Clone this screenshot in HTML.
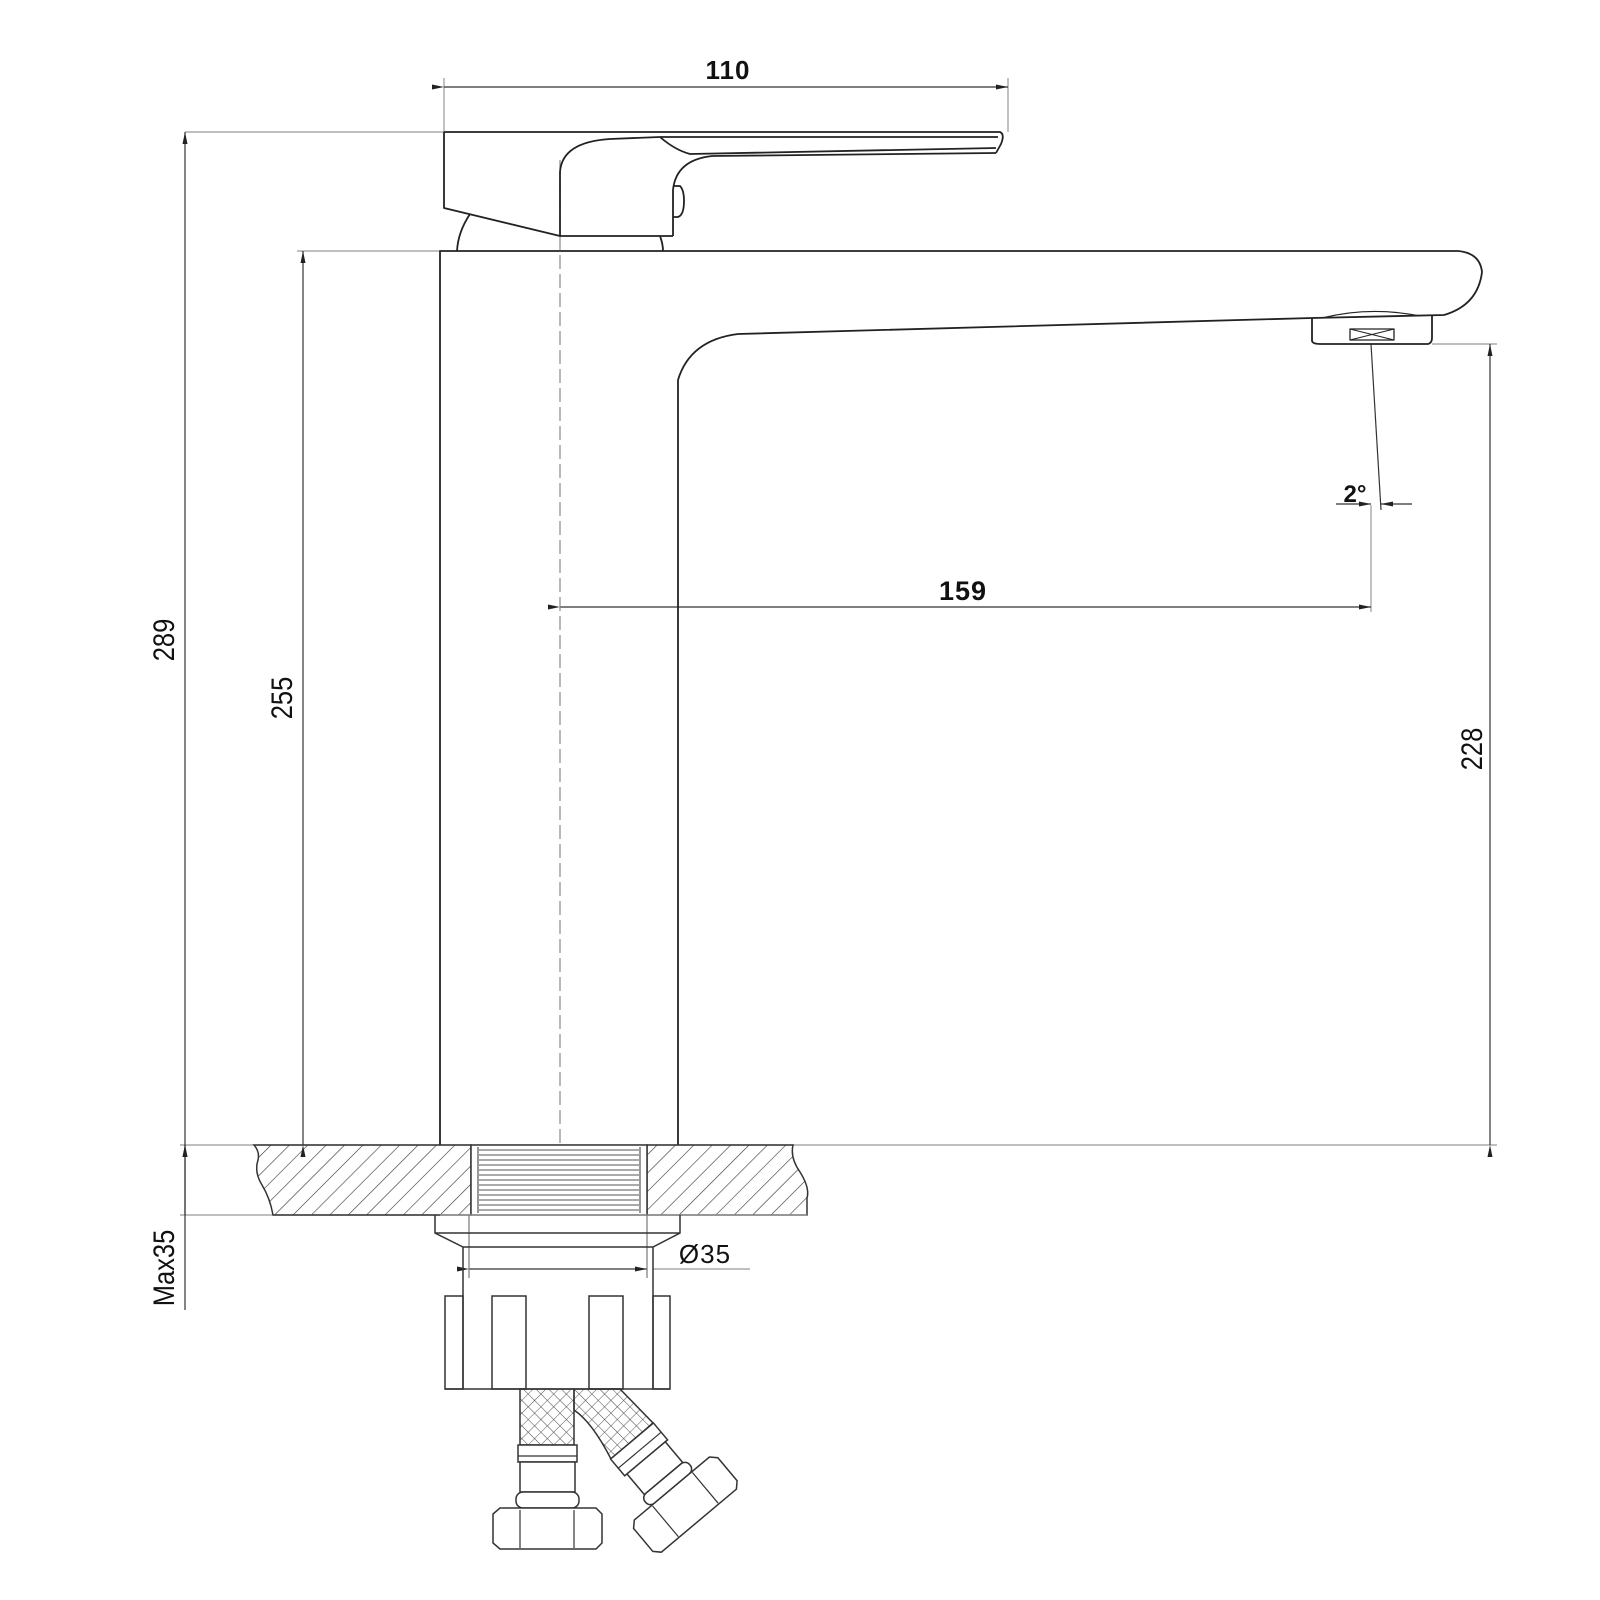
<!DOCTYPE html>
<html><head><meta charset="utf-8"><style>
html,body{margin:0;padding:0;background:#fff;}
svg{display:block;}
text{font-family:"Liberation Sans",sans-serif;fill:#111;}
</style></head><body>
<svg width="1600" height="1600" viewBox="0 0 1600 1600" xmlns="http://www.w3.org/2000/svg">
<defs>
<pattern id="hatch" patternUnits="userSpaceOnUse" width="13" height="13" patternTransform="rotate(45)">
<line x1="0" y1="0" x2="0" y2="13" stroke="#333" stroke-width="1.2"/>
</pattern>
<pattern id="mesh" patternUnits="userSpaceOnUse" width="9" height="9" patternTransform="rotate(45)">
<path d="M0 0 V9 M0 0 H9" stroke="#444" stroke-width="0.9" fill="none"/>
</pattern>
<marker id="ar" markerWidth="12" markerHeight="8" refX="12" refY="4" orient="auto" markerUnits="userSpaceOnUse">
<path d="M0 1.5 L12 4 L0 6.5 z" fill="#222"/>
</marker>
</defs>
<g fill="none" stroke="#999" stroke-width="1.2">
<line x1="185" y1="132" x2="444" y2="132"/>
<line x1="444" y1="78" x2="444" y2="132"/>
<line x1="1008" y1="78" x2="1008" y2="132"/>
<line x1="297" y1="251" x2="440" y2="251"/>
<line x1="180" y1="1145" x2="1497" y2="1145"/>
<line x1="180" y1="1215" x2="440" y2="1215"/>
<line x1="1432" y1="344" x2="1497" y2="344"/>
<line x1="1371" y1="505" x2="1371" y2="612"/>
<line x1="653" y1="1269" x2="750" y2="1269"/>
</g>
<g fill="none" stroke="#333" stroke-width="1.2">
<line x1="444" y1="87" x2="1008" y2="87" marker-start="url(#ar)" marker-end="url(#ar)"/>
<line x1="185" y1="1145" x2="185" y2="132" marker-start="url(#ar)" marker-end="url(#ar)"/>
<line x1="303" y1="1145" x2="303" y2="251" marker-start="url(#ar)" marker-end="url(#ar)"/>
<line x1="1490" y1="1145" x2="1490" y2="344" marker-start="url(#ar)" marker-end="url(#ar)"/>
<line x1="560" y1="607" x2="1371" y2="607" marker-start="url(#ar)" marker-end="url(#ar)"/>
<line x1="185" y1="1145" x2="185" y2="1310"/>
<line x1="185" y1="1215" x2="185" y2="1145" marker-end="url(#ar)"/>
<line x1="469" y1="1269" x2="647" y2="1269" marker-start="url(#ar)" marker-end="url(#ar)"/>
<line x1="1371" y1="344" x2="1381" y2="510"/>
<line x1="1336" y1="504" x2="1371" y2="504" marker-end="url(#ar)"/>
<line x1="1412" y1="504" x2="1381" y2="504" marker-end="url(#ar)"/>
<line x1="560" y1="160" x2="560" y2="1145" stroke="#888" stroke-dasharray="14 5"/>
<line x1="469" y1="1215" x2="469" y2="1278" stroke="#777"/>
<line x1="647" y1="1215" x2="647" y2="1278" stroke="#777"/>
</g>
<g fill="none" stroke="#222" stroke-width="1.8" stroke-linejoin="round">
<path d="M444 132 H1000 Q1005 134 1001 144 L996 153"/>
<path d="M444 132 V208 L560 236 H673"/>
<path d="M560 236 V172 Q562 142 610 139 L660 137 H998"/>
<path d="M660 137 Q675 150 690 154 L996 148"/>
<path d="M673 236 V190 Q676 160 712 156 L996 153"/>
<path d="M673 186 H680 Q684 190 684 201 Q684 215 678 217 H673"/>
<path d="M470 214 Q458 232 457 251"/>
<path d="M660 236 Q663 244 663 251"/>
<path d="M440 1145 V251 H1458 Q1480 253 1482 272 Q1478 305 1444 315 L1312 318 L738 334 Q690 340 678 380 V1145"/>
<path d="M1312 318 V341 Q1313 344 1320 344 H1428 Q1432 343 1432 338 V316"/>
<path d="M1322 318 Q1370 306 1420 316" stroke-width="1.2"/>
<rect x="1350" y="329" width="44" height="11" stroke-width="1.3"/>
<path d="M1350 329 L1394 340 M1394 329 L1350 340" stroke-width="1"/>
</g>
<g stroke="#333" stroke-width="1.5">
<path d="M254 1145 H471 V1215 H273 Q270 1198 262 1185 Q254 1172 258 1160 Q260 1152 254 1145 Z" fill="url(#hatch)"/>
<path d="M647 1145 H793 Q790 1158 800 1172 Q810 1188 807 1198 L807 1215 H647 Z" fill="url(#hatch)"/>
<rect x="471" y="1145" width="176" height="70" fill="#fff"/>
<line x1="478" y1="1147" x2="478" y2="1213" stroke-width="1"/>
<line x1="640" y1="1147" x2="640" y2="1213" stroke-width="1"/>
</g>
<g stroke="#555" stroke-width="1">
<line x1="479" y1="1150" x2="639" y2="1150"/><line x1="479" y1="1155" x2="639" y2="1155"/>
<line x1="479" y1="1160" x2="639" y2="1160"/><line x1="479" y1="1165" x2="639" y2="1165"/>
<line x1="479" y1="1170" x2="639" y2="1170"/><line x1="479" y1="1175" x2="639" y2="1175"/>
<line x1="479" y1="1180" x2="639" y2="1180"/><line x1="479" y1="1185" x2="639" y2="1185"/>
<line x1="479" y1="1190" x2="639" y2="1190"/><line x1="479" y1="1195" x2="639" y2="1195"/>
<line x1="479" y1="1200" x2="639" y2="1200"/><line x1="479" y1="1205" x2="639" y2="1205"/>
<line x1="479" y1="1210" x2="639" y2="1210"/>
</g>
<line x1="440" y1="1215" x2="807" y2="1215" stroke="#999" stroke-width="1.2"/>
<g fill="none" stroke="#333" stroke-width="1.5">
<path d="M435 1215 V1233 L463 1247 H653 L680 1233 V1215"/>
<line x1="435" y1="1233" x2="680" y2="1233"/>
<path d="M463 1247 V1389 M653 1247 V1389"/>
<rect x="445" y="1296" width="18" height="93"/>
<rect x="492" y="1296" width="34" height="93"/>
<rect x="589" y="1296" width="34" height="93"/>
<rect x="653" y="1296" width="17" height="93"/>
<line x1="445" y1="1389" x2="670" y2="1389"/>
</g>
<g stroke="#333" stroke-width="1.5">
<rect x="520" y="1389" width="54" height="56" fill="url(#mesh)"/>
<path d="M574 1389 H620 L653 1423 L611 1459 Q592 1422 574 1410 Z" fill="url(#mesh)"/>
<g fill="#fff">
<rect x="518" y="1445" width="59" height="17"/>
<rect x="520" y="1462" width="55" height="30"/>
<rect x="516" y="1492" width="63" height="16" rx="7"/>
<path d="M493 1514 L500 1508 H596 L602 1514 V1543 L596 1549 H500 L493 1543 Z"/>
<g transform="translate(632,1441) rotate(-40)">
<rect x="-28" y="0" width="56" height="22"/>
<rect x="-25" y="22" width="50" height="27"/>
<rect x="-29" y="49" width="58" height="13" rx="6"/>
<path d="M-55 68 L-49 62 H49 L55 68 V98 L49 104 H-49 L-55 98 Z"/>
</g>
</g>
<g fill="none" stroke-width="1.2">
<line x1="520" y1="1510" x2="520" y2="1548"/><line x1="574" y1="1510" x2="574" y2="1548"/>
<line x1="518" y1="1456" x2="577" y2="1456"/>
<g transform="translate(632,1441) rotate(-40)"><line x1="-26" y1="63" x2="-26" y2="103"/><line x1="26" y1="63" x2="26" y2="103"/><line x1="-28" y1="12" x2="28" y2="12"/></g>
</g>
</g>
<text x="728" y="79" font-size="26" text-anchor="middle" font-weight="bold" letter-spacing="1">110</text>
<text x="963" y="600" font-size="27" text-anchor="middle" font-weight="bold" letter-spacing="1">159</text>
<text x="1355" y="502" font-size="24" text-anchor="middle" font-weight="bold">2°</text>
<text x="705" y="1263" font-size="26" text-anchor="middle" letter-spacing="1">Ø35</text>
<text transform="translate(174,640) rotate(-90) scale(0.85,1)" font-size="30" text-anchor="middle">289</text>
<text transform="translate(292,698) rotate(-90) scale(0.85,1)" font-size="30" text-anchor="middle">255</text>
<text transform="translate(1482,749) rotate(-90) scale(0.85,1)" font-size="30" text-anchor="middle">228</text>
<text transform="translate(174,1268) rotate(-90) scale(0.85,1)" font-size="30" text-anchor="middle">Max35</text>
</svg>
</body></html>
